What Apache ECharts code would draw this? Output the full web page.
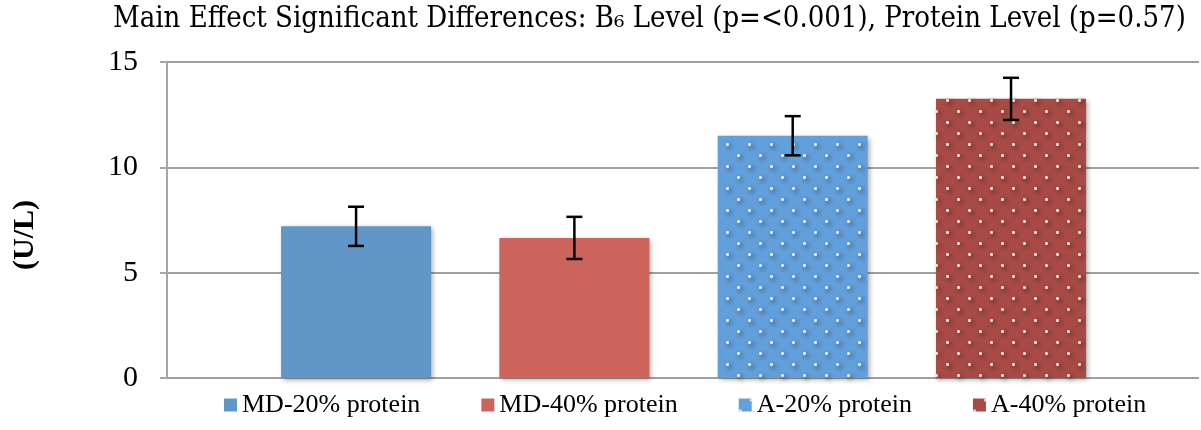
<!DOCTYPE html>
<html>
<head>
<meta charset="utf-8">
<script src="https://cdn.jsdelivr.net/npm/echarts@6/dist/echarts.min.js"></script>
<style>
  html, body { margin: 0; padding: 0; background: #ffffff; }
  #chart { width: 1201px; height: 430px; }
</style>
</head>
<body>
<div id="chart"></div>
<script>
// Enzyme activity (U/L) by diet group, mean with error
const groups = ['MD-20% protein', 'MD-40% protein', 'A-20% protein', 'A-40% protein'];
const means = [7.2, 6.65, 11.5, 13.25];
const errors = [0.93, 1.0, 0.93, 1.0];
const colors = ['#6096C8', '#CC645E', '#62A0DB', '#A84A45'];
const dotted = [false, false, true, true];
const yTicks = { min: 0, max: 15, interval: 5 };
const titleText = 'Main Effect Significant Differences: B\u2086 Level (p=<0.001), Protein Level (p=0.57)';
const yName = '(U/L)';

const serif = "'Liberation Serif', 'Times New Roman', serif";
const narrow = "'DejaVu Serif Condensed', 'Liberation Sans Narrow', 'DejaVu Sans Condensed', sans-serif";

const dotDecal = {
  symbol: 'rect',
  symbolSize: 0.85,
  color: '#ffffff',
  dashArrayX: [[3, 19], [0, 11, 3, 8]],
  dashArrayY: [3, 8],
  rotation: 0
};

const barSeries = groups.map((name, i) => ({
  name: name,
  type: 'bar',
  barWidth: 150,
  barGap: '-100%',
  data: [[i, means[i]]],
  itemStyle: {
    color: colors[i],
    decal: dotted[i] ? dotDecal : null,
    shadowBlur: 5,
    shadowOffsetX: 2,
    shadowOffsetY: 2,
    shadowColor: 'rgba(0,0,0,0.35)'
  },
  emphasis: { disabled: true }
}));

const errorSeries = {
  type: 'custom',
  name: 'error',
  silent: true,
  z: 5,
  data: means.map((m, i) => [i, m - errors[i], m + errors[i]]),
  renderItem: function (params, api) {
    const x = api.value(0);
    const lo = api.coord([x, api.value(1)]);
    const hi = api.coord([x, api.value(2)]);
    const cap = 8;
    const style = { stroke: '#000000', lineWidth: 2.5 };
    return {
      type: 'group',
      children: [
        { type: 'line', shape: { x1: lo[0], y1: lo[1], x2: hi[0], y2: hi[1] }, style: style },
        { type: 'line', shape: { x1: hi[0] - cap, y1: hi[1], x2: hi[0] + cap, y2: hi[1] }, style: style },
        { type: 'line', shape: { x1: lo[0] - cap, y1: lo[1], x2: lo[0] + cap, y2: lo[1] }, style: style }
      ]
    };
  }
};

const chart = echarts.init(document.getElementById('chart'), null, { renderer: 'canvas' });
chart.setOption({
  animation: false,
  backgroundColor: '#ffffff',
  title: {
    text: titleText,
    left: 113,
    top: 5,
    padding: 0,
    textStyle: { fontFamily: narrow, fontSize: 29, fontWeight: 'normal', color: '#000000' }
  },
  legend: {
    data: groups,
    left: 224,
    top: 392,
    padding: 0,
    itemWidth: 13,
    itemHeight: 13,
    itemGap: 61,
    icon: 'rect',
    selectedMode: false,
    textStyle: { fontFamily: serif, fontSize: 26, color: '#000000' }
  },
  grid: { left: 167, right: 2, top: 62, bottom: 52, containLabel: false, outerBoundsMode: 'none' },
  xAxis: {
    type: 'value',
    min: -0.866,
    max: 3.861,
    show: true,
    axisLine: { show: false },
    axisTick: { show: false },
    axisLabel: { show: false },
    splitLine: { show: false }
  },
  yAxis: {
    type: 'value',
    min: yTicks.min,
    max: yTicks.max,
    interval: yTicks.interval,
    name: yName,
    nameLocation: 'middle',
    nameRotate: 90,
    nameGap: 127,
    nameTextStyle: { fontFamily: serif, fontSize: 30, fontWeight: 'bold', color: '#000000', padding: [0, 30, 0, 0] },
    axisLine: { show: true, onZero: false, lineStyle: { color: '#a6a6a6', width: 2 } },
    axisTick: { show: true, inside: false, length: 7, lineStyle: { color: '#a6a6a6', width: 2 } },
    axisLabel: { margin: 29, fontFamily: serif, fontSize: 30, color: '#000000' },
    splitLine: { show: true, lineStyle: { color: '#a0a0a0', width: 2 } }
  },
  series: barSeries.concat([errorSeries])
});
</script>
</body>
</html>
